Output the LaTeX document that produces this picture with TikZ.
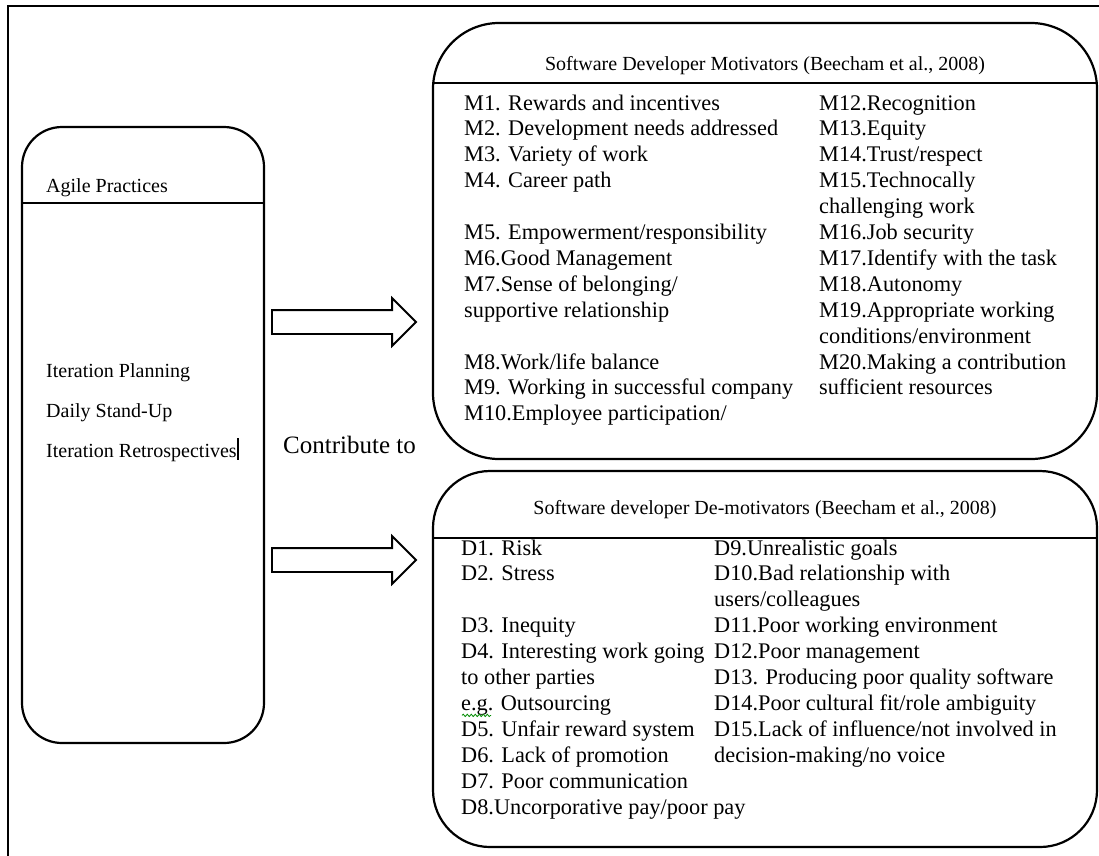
\documentclass[tikz,border=0pt]{standalone}
\usepackage{fontspec}
\setmainfont{Liberation Serif}
\usetikzlibrary{shapes.arrows, calc, decorations.pathmorphing}

\begin{document}
\begin{tikzpicture}[x=1pt, y=-1pt,
  frameline/.style={line width=1.8pt},
  panel/.style={draw, line width=2.2pt, inner sep=0pt, outer sep=0pt},
  divider/.style={line width=2.2pt},
  bodytext/.style={font=\fontsize{22.3}{26}\selectfont, inner sep=0pt, anchor=base west},
  headtext/.style={font=\fontsize{20}{24}\selectfont, inner sep=0pt, anchor=base},
  sidetext/.style={font=\fontsize{20}{24}\selectfont, inner sep=0pt, anchor=base west},
  blockarrow/.style={single arrow, draw, line width=1.8pt, fill=white,
    minimum height=144pt, single arrow head extend=12pt,
    single arrow head indent=0pt, inner xsep=0pt, inner ysep=11pt,
    outer sep=0pt, anchor=tail}
]
\useasboundingbox (0,0) rectangle (1099,855);
\fill[white] (0,0) rectangle (1099,855);

% page frame
\draw[frameline] (8,860) -- (8,6) -- (1105,6);

% left panel: agile practices
\node[panel, rounded corners=40pt, minimum width=242pt, minimum height=616pt] (agile) at (143,435) {};
\draw[divider] (agile.west |- 0,203) -- (agile.east |- 0,203);
\node[sidetext] (aphead) at (46,192) {Agile Practices};
\node[sidetext] (ap1) at (46,377) {Iteration Planning};
\node[sidetext] (ap2) at (46,417) {Daily Stand-Up};
\node[sidetext] (ap3) at (46,457) {Iteration Retrospectives};
\draw[line width=1.6pt] ($(ap3.base east)+(1,-19)$) -- ($(ap3.base east)+(1,3)$);

% motivators panel
\node[panel, rounded corners=66pt, minimum width=664pt, minimum height=436pt] (mot) at (765,241) {};
\draw[divider] (mot.west |- 0,83) -- (mot.east |- 0,83);
\node[headtext] (mothead) at (765,70) {Software Developer Motivators (Beecham et al., 2008)};
\foreach \n/\t in {0/{M1. Rewards and incentives}, 1/{M2. Development needs addressed},
    2/{M3. Variety of work}, 3/{M4. Career path}, 5/{M5. Empowerment/responsibility},
    6/{M6.Good Management}, 7/{M7.Sense of belonging/}, 8/{supportive relationship},
    10/{M8.Work/life balance}, 11/{M9. Working in successful company},
    12/{M10.Employee participation/}}
  \node[bodytext, name=ml\n] at (464,{110+25.9*\n}) {\t};
\foreach \n/\t in {0/{M12.Recognition}, 1/{M13.Equity}, 2/{M14.Trust/respect},
    3/{M15.Technocally}, 4/{challenging work}, 5/{M16.Job security},
    6/{M17.Identify with the task}, 7/{M18.Autonomy}, 8/{M19.Appropriate working},
    9/{conditions/environment}, 10/{M20.Making a contribution}, 11/{sufficient resources}}
  \node[bodytext, name=mr\n] at (819,{110+25.9*\n}) {\t};

% de-motivators panel
\node[panel, rounded corners=57pt, minimum width=664pt, minimum height=376pt] (demot) at (765,659) {};
\draw[divider] (demot.west |- 0,538) -- (demot.east |- 0,538);
\node[headtext] (demothead) at (765,514) {Software developer De-motivators (Beecham et al., 2008)};
\foreach \n/\t in {0/{D1. Risk}, 1/{D2. Stress}, 3/{D3. Inequity},
    4/{D4. Interesting work going}, 5/{to other parties}, 6/{e.g. Outsourcing},
    7/{D5. Unfair reward system}, 8/{D6. Lack of promotion},
    9/{D7. Poor communication}, 10/{D8.Uncorporative pay/poor pay}}
  \node[bodytext, name=dl\n] at (461,{555+25.9*\n}) {\t};
\foreach \n/\t in {0/{D9.Unrealistic goals}, 1/{D10.Bad relationship with},
    2/{users/colleagues}, 3/{D11.Poor working environment}, 4/{D12.Poor management},
    5/{D13. Producing poor quality software}, 6/{D14.Poor cultural fit/role ambiguity},
    7/{D15.Lack of influence/not involved in}, 8/{decision-making/no voice}}
  \node[bodytext, name=dr\n] at (714,{555+25.9*\n}) {\t};
% spelling squiggle under "e.g."
\draw[green!55!black, line width=0.8pt, decorate,
  decoration={snake, amplitude=1.2pt, segment length=4pt}]
  ($(dl6.base west)+(1,5)$) -- ++(29,0);

% block arrows from the practices to both panels
\node[blockarrow] (toMot) at ($(agile.east |- 0,322)+(8,0)$) {};
\node[blockarrow] (toDemot) at ($(agile.east |- 0,560)+(8,0)$) {};
\node[font=\fontsize{25}{30}\selectfont, inner sep=0pt, anchor=base west] (contrib) at (283,453) {Contribute to};
\end{tikzpicture}
\end{document}
